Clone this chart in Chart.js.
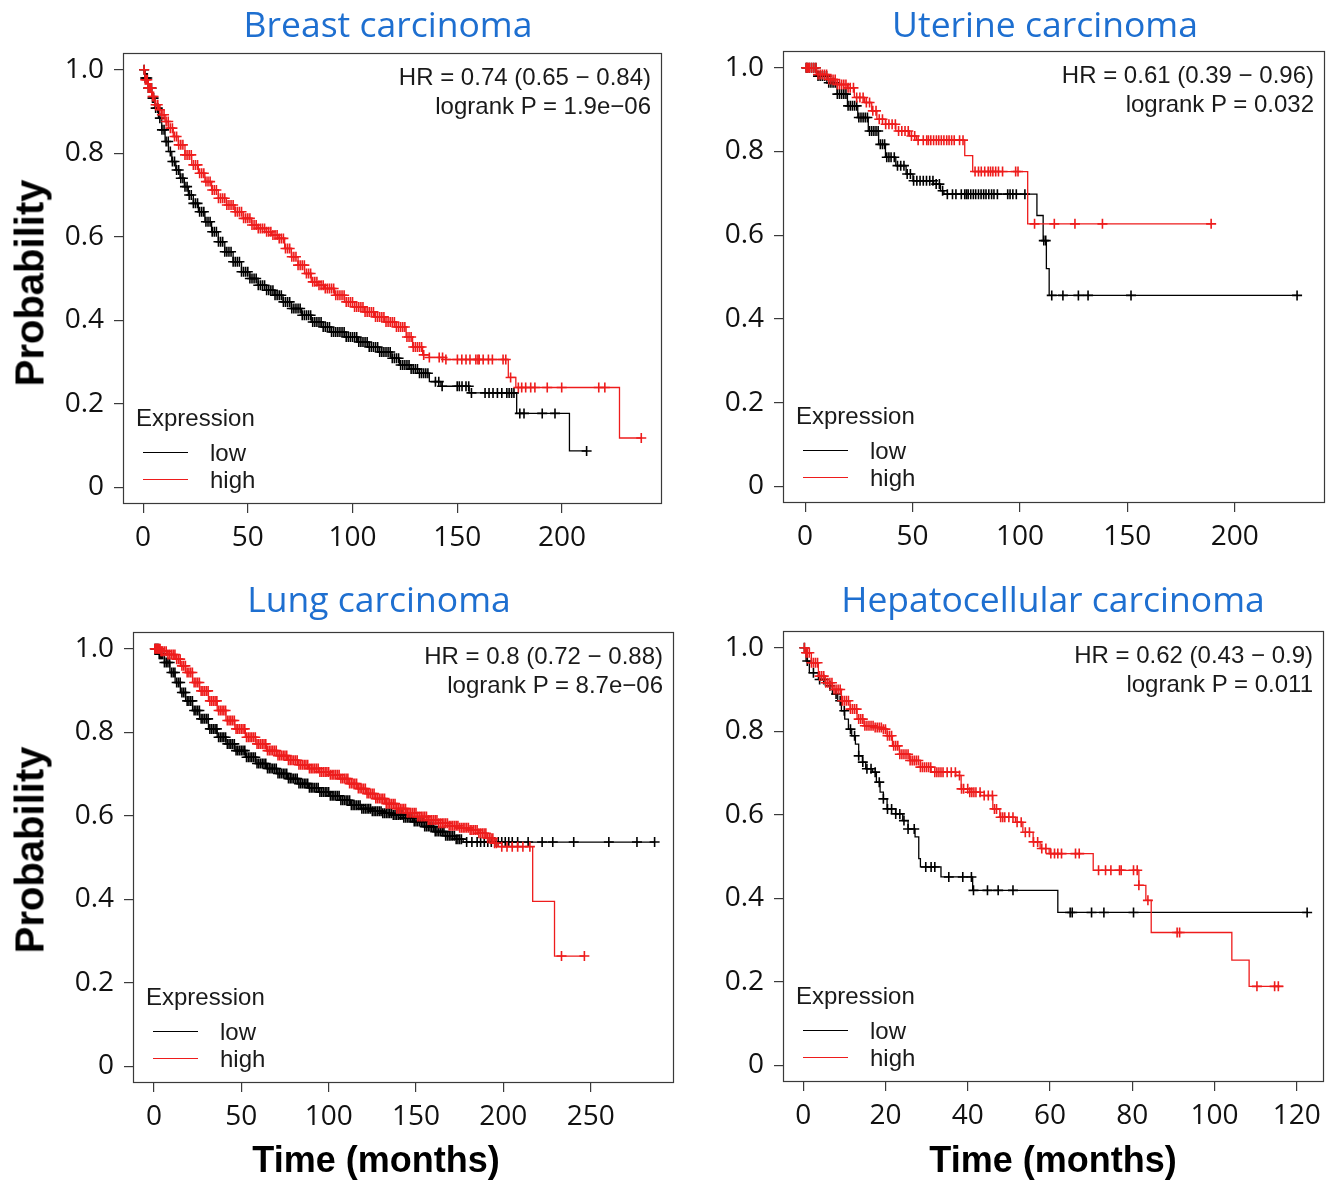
<!DOCTYPE html>
<html><head><meta charset="utf-8">
<script src="https://cdn.jsdelivr.net/npm/chart.js@4.4.1/dist/chart.umd.min.js"></script>
<style>
html,body{margin:0;padding:0;background:#fff;}
body{width:1328px;height:1182px;position:relative;overflow:hidden;font-family:"Liberation Sans",Arial,sans-serif;color:#1a1a1a;}
canvas{position:absolute;}
.t{position:absolute;white-space:nowrap;transform:translate(-50%,-50%);}
.title{font-family:"Open Sans",sans-serif;color:#1e6fd0;font-size:35.5px;}
.axl{font-family:"Liberation Sans",Arial,sans-serif;font-weight:bold;font-size:40px;color:#000;}
.xaxl{font-size:36px;}
.hr{position:absolute;font-size:24px;line-height:29px;text-align:right;white-space:nowrap;transform:translateX(-100%);}
.lg{position:absolute;font-size:24px;white-space:nowrap;transform:translateY(-50%);}
.ln{position:absolute;height:0;width:45px;}
</style></head><body>
<script>
// ---------- axis ticks ----------
const yTickValues = [0, 0.2, 0.4, 0.6, 0.8, 1.0];
const yTickLabels = ['0', '0.2', '0.4', '0.6', '0.8', '1.0'];
const breastXTicks = [0, 50, 100, 150, 200];
const uterineXTicks = [0, 50, 100, 150, 200];
const lungXTicks = [0, 50, 100, 150, 200, 250];
const hepatoXTicks = [0, 20, 40, 60, 80, 100, 120];

// ---------- Breast carcinoma ----------
const breastLowT = [0,0.95,2.5,4.1,5.7,7.3,8.9,10.5,12.1,13.7,15.6,17.6,19.7,21.6,24,26.4,29.5,32.7,35.9,39,43,47,51,54.9,58.9,62.9,66.8,70.8,75.6,80.3,85.1,89.8,96.2,102.5,107.3,112.1,118.4,122.4,127.1,131.9,136.7,142.2,155.7,178.4,203.6];
const breastLowS = [1,0.98,0.956,0.932,0.908,0.884,0.856,0.828,0.804,0.78,0.76,0.74,0.72,0.70,0.68,0.66,0.636,0.612,0.588,0.564,0.54,0.516,0.50,0.484,0.472,0.46,0.444,0.428,0.412,0.396,0.384,0.372,0.36,0.348,0.336,0.324,0.309,0.293,0.283,0.273,0.253,0.242,0.226,0.177,0.087];
const breastLowEnd = 211.8;
const breastLowCensor = [0.5,1,1.5,2,2.5,3,3.5,4,4.5,5,6,7,8,9,10,11,12,13,14,15,16,17,18,19,20,21,22,23,24,25,26,27,28,29,30,31,32,33,34,35,36,37,38,39,40,41,42,43,44,45,46,47,48,49,50,51,52,53,54,55,56,57,58,59,60,61,62,63,64,65,66,67,68,69,70,71,72,73,74,75,76,77,78,79,80,81,82,83,84,85,86,87,88,89,90,91,92,93,94,95,96,97,98,99,100,101,102,103,104,105,106,107,108,109,110,111,112,113,114,115,116,117,118,119,120,121,122,123,124,125,126,127,128,129,130,131,132,133,134,135,136,139.6,141.2,142.8,150,151,152.3,154.2,155.5,156.8,163.3,165.2,167.1,169.2,171.3,173.7,174.8,176,177.1,179.9,181.9,190.6,196.7,211.8];
const breastHighT = [0,0.95,2.5,4.1,5.7,7.3,8.9,10.5,12.1,14.4,16.8,20,23.2,26.4,29.5,32.7,35.9,39.8,43.8,47.8,51.8,54.9,58.1,61.3,64.4,67.6,70.8,74,77.1,80.3,83.5,86.7,91.4,96.2,101,105.7,110.5,115.2,120.8,125.6,128.7,133.5,136.7,144.6,174.4,178,227.5];
const breastHighS = [1,0.976,0.956,0.936,0.916,0.904,0.892,0.876,0.86,0.84,0.82,0.796,0.772,0.752,0.732,0.712,0.692,0.676,0.66,0.644,0.628,0.62,0.612,0.604,0.596,0.572,0.552,0.532,0.512,0.492,0.484,0.476,0.46,0.444,0.432,0.42,0.408,0.396,0.384,0.36,0.336,0.317,0.311,0.306,0.263,0.239,0.118];
const breastHighEnd = 237.9;
const breastHighCensor = [0.5,1,1.5,2,2.5,3,3.5,4,4.5,5,6,7,8,9,10,11,12,13,14,15,16,17,18,19,20,21,22,23,24,25,26,27,28,29,30,31,32,33,34,35,36,37,38,39,40,41,42,43,44,45,46,47,48,49,50,51,52,53,54,55,56,57,58,59,60,61,62,63,64,65,66,67,68,69,70,71,72,73,74,75,76,77,78,79,80,81,82,83,84,85,86,87,88,89,90,91,92,93,94,95,96,97,98,99,100,101,102,103,104,105,106,107,108,109,110,111,112,113,114,115,116,117,118,119,120,121,122,123,124,125,126,127,128,129,130,131,132,133,134,136.7,141.4,143,144.6,150.1,152.2,154.2,156.1,158.9,159.9,160.5,162.4,164.9,166.8,171.9,173.2,175.5,179.2,180.8,182.7,185.1,187.1,193,199.9,217.6,220.5,237.9];

// ---------- Uterine carcinoma ----------
const uterineLowT = [0,5.3,10.1,14.9,19.7,24.5,29.4,34.2,37.4,42.2,47,50.2,59.8,63,64.6,107.9,110.8,112.3,113.6];
const uterineLowS = [1,0.98,0.964,0.937,0.909,0.881,0.849,0.817,0.786,0.766,0.746,0.73,0.722,0.706,0.698,0.647,0.587,0.52,0.456];
const uterineLowEnd = 229;
const uterineLowCensor = [0.5,1,2,3,4,5,6,7,8,9,10,11,12,13,14,15,16,17,18,19,20,21,22,23,24,25,26,27,28,29,30,31,32,33,34,35,36,37,38,39,40,41.5,43,44.5,46,47.5,49,50.5,52,53.5,55,56.5,58,59.5,61,62.5,64,66.2,68.6,70.2,72.7,74.3,75.1,75.9,77.1,78.3,79.4,80.7,81.9,83.1,84.2,85.5,86.8,87.9,89.5,94.3,95.4,96.7,98.3,102.3,111.1,112,114.8,120,127.2,131.7,151.7,229];
const uterineHighT = [0,5.3,10.1,14.9,19.7,22.9,27.7,31,33.4,37.4,42.2,48.6,51.8,74.3,78,103.6];
const uterineHighS = [1,0.984,0.972,0.96,0.952,0.929,0.917,0.897,0.877,0.865,0.849,0.837,0.827,0.79,0.752,0.627];
const uterineHighEnd = 189;
const uterineHighCensor = [0.5,1,1.5,2,3,4,5,6,7,8,9,10,11,12,13,14,15,16,17,18,19,20,21,22.5,24,25.5,27,28.5,30,31.5,33,34.5,36,37.5,39,40.5,42,43.5,45,46.5,48,49.5,51,52.6,55,56.6,57.4,58.5,59.8,61.1,62.2,63.4,64.6,65.9,67,68.2,69.4,71.9,73.5,79.1,80.7,82,83.6,85.2,86.3,87.4,88.7,90,91.9,98,99.1,106.8,116,125.6,138.4,189];

// ---------- Lung carcinoma ----------
const lungLowT = [0,3,6,9.1,12.1,15.1,18.1,22.1,26.1,31.2,36.2,41.2,46.3,52.3,58.3,64.4,70.4,76.4,82.5,88.5,94.5,100.6,106.6,112.6,118.7,124.7,130.7,136.8,142.8,148.8,154.9,160.9,166.9,173,177];
const lungLowS = [1,0.987,0.967,0.943,0.919,0.895,0.875,0.852,0.832,0.808,0.788,0.772,0.756,0.74,0.725,0.713,0.701,0.689,0.677,0.667,0.657,0.648,0.637,0.625,0.617,0.611,0.606,0.602,0.595,0.586,0.574,0.562,0.552,0.544,0.537];
const lungLowEnd = 286.6;
const lungLowCensor = [0.5,1,1.5,2,2.5,3,3.5,4,4.5,5,6,7,8,9,10,11,12,13,14,15,16,17,18,19,20,21,22,23,24,25,26,27,28,29,30,31,32,33,34,35,36,37,38,39,40,41,42,43,44,45,46,47,48,49,50,51,52,53,54,55,56,57,58,59,60,61,62,63,64,65,66,67,68,69,70,71,72,73,74,75,76,77,78,79,80,81,82,83,84,85,86,87,88,89,90,91,92,93,94,95,96,97,98,99,100,101,102,103,104,105,106,107,108,109,110,111,112,113,114,115,116,117,118,119,120,121,122,123,124,125,126,127,128,129,130,131,132,133,134,135,136,137,138,139,140,141,142,143,144,145,146,147,148,149,150,151,152,153,154,155,156,157,158,159,160,161,162,163,164,165,166,167,168,169,170,171,172,173,174,175,176,179,182,185,187,189.1,191.1,193.1,195.1,197.1,199.1,201.1,203.1,205.1,208.2,214.2,222.2,228.3,240.3,260.4,276.5,286.6];
const lungHighT = [0,4,8,12.1,15.1,18.1,22.1,26.1,31.2,36.2,41.2,46.3,52.3,58.3,64.4,70.4,76.4,82.5,88.5,94.5,100.6,106.6,111.6,116.7,121.7,126.7,132.7,138.8,144.8,150.8,156.9,162.9,169,175,181,186,190.1,194.1,197.1,216.8,229.3];
const lungHighS = [1,0.994,0.986,0.975,0.959,0.943,0.919,0.899,0.875,0.852,0.828,0.808,0.788,0.772,0.756,0.744,0.733,0.722,0.713,0.705,0.698,0.689,0.677,0.665,0.653,0.641,0.629,0.617,0.607,0.598,0.59,0.582,0.576,0.571,0.566,0.558,0.546,0.534,0.526,0.395,0.264];
const lungHighEnd = 246.4;
const lungHighCensor = [0.5,1,1.5,2,2.5,3,3.5,4,4.5,5,6,7,8,9,10,11,12,13,14,15,16,17,18,19,20,21,22,23,24,25,26,27,28,29,30,31,32,33,34,35,36,37,38,39,40,41,42,43,44,45,46,47,48,49,50,51,52,53,54,55,56,57,58,59,60,61,62,63,64,65,66,67,68,69,70,71,72,73,74,75,76,77,78,79,80,81,82,83,84,85,86,87,88,89,90,91,92,93,94,95,96,97,98,99,100,101,102,103,104,105,106,107,108,109,110,111,112,113,114,115,116,117,118,119,120,121,122,123,124,125,126,127,128,129,130,131,132,133,134,135,136,137,138,139,140,141,142,143,144,145,146,147,148,149,150,151,152,153,154,155,156,157,158,159,160,161,162,163,164,165,166,167,168,169,170,171,172,173,174,175,176,177,178,179,180,181,182,183,184,185,186,187,188,189,190,191,192,193,194,195,196,199.1,202.1,205.1,208.2,211.2,215.2,233.3,246.4];

// ---------- Hepatocellular carcinoma ----------
const hepatoLowT = [0,0.7,1.5,3.7,5.4,7.1,8.4,9.3,10.1,11,11.8,12.7,13.5,14.4,15.2,16.9,17.8,18.7,19.5,20.4,22.5,24.2,25.5,27.2,28.1,28.5,33.5,41.2,61.9];
const hepatoLowS = [1,0.968,0.94,0.924,0.909,0.889,0.873,0.849,0.829,0.805,0.789,0.769,0.741,0.726,0.71,0.702,0.678,0.654,0.638,0.614,0.602,0.586,0.566,0.547,0.495,0.475,0.451,0.419,0.366];
const hepatoLowEnd = 122.7;
const hepatoLowCensor = [0.3,1,2.5,4,5,6.5,8,9,10,11.5,12.5,13.5,14.5,15.5,16.5,17.5,18.5,19.5,20.5,21.5,22.5,23.5,24.5,25.5,27,29.8,31.1,32,35.4,38.8,40.9,41.4,44.8,47.4,51,64.9,65.4,70.1,73.1,80.3,122.5];
const hepatoHighT = [0,0.7,2,3.7,5.4,7.1,9.3,11.4,13.1,14.8,17.4,19.1,20.4,21.7,23.4,25.9,28.5,31.1,37.1,38.4,40.5,43.1,46.1,47.8,51.6,53.4,55.9,57.6,59.8,70.5,81.6,83.3,84.6,104.2,108.4];
const hepatoHighS = [1,0.988,0.964,0.932,0.916,0.9,0.873,0.853,0.829,0.813,0.809,0.805,0.789,0.765,0.745,0.73,0.714,0.702,0.694,0.662,0.654,0.646,0.614,0.594,0.582,0.558,0.535,0.519,0.507,0.467,0.431,0.395,0.318,0.252,0.189];
const hepatoHighEnd = 116.7;
const hepatoHighCensor = [0.3,0.7,1,1.5,2,2.5,3,3.5,4,4.5,5,5.5,6,6.5,7,7.5,8,8.5,9,9.5,10,10.5,11,11.5,12,12.5,13,13.5,14,14.5,15,15.5,16,16.5,17,17.5,18,18.5,19,19.5,20,20.5,21,21.5,22,22.5,23,23.5,24,24.5,25,25.5,26,26.5,27,27.5,28,28.5,29,29.5,30,30.5,31,32,32.5,33,33.5,34,35,36,37,38,38.5,39,40,40.5,41,41.5,42,43,44,45,46,46.5,47,48,48.5,49,50,51,52,53,54,55,56,57,58,59,60.2,61.1,61.9,62.8,66.2,67.1,71.8,73.5,74.8,76.9,77.3,80.3,81.2,81.6,83.8,90.9,91.5,110.3,114.6,115.5];

// ---------- texts ----------
const titles = ['Breast carcinoma', 'Uterine carcinoma', 'Lung carcinoma', 'Hepatocellular carcinoma'];
const hrLines = [
  ['HR = 0.74 (0.65 \u2212 0.84)', 'logrank P = 1.9e\u221206'],
  ['HR = 0.61 (0.39 \u2212 0.96)', 'logrank P = 0.032'],
  ['HR = 0.8 (0.72 \u2212 0.88)', 'logrank P = 8.7e\u221206'],
  ['HR = 0.62 (0.43 \u2212 0.9)', 'logrank P = 0.011']
];
const legendTitle = 'Expression';
const legendLabels = ['low', 'high'];
const yAxisTitle = 'Probability';
const xAxisTitle = 'Time (months)';

// ---------- layout (page pixels) ----------
const RED = '#ee1c1c', BLACK = '#000000';
const panels = [
  {box:[123,53,662,504], xMin:-9.6, xMax:247.8, xTicks:breastXTicks, title:[388,23],
   low:[breastLowT,breastLowS,breastLowEnd,breastLowCensor], high:[breastHighT,breastHighS,breastHighEnd,breastHighCensor]},
  {box:[783,51,1325,503], xMin:-10.3, xMax:242, xTicks:uterineXTicks, title:[1045,23],
   low:[uterineLowT,uterineLowS,uterineLowEnd,uterineLowCensor], high:[uterineHighT,uterineHighS,uterineHighEnd,uterineHighCensor]},
  {box:[133,632,674,1083], xMin:-12, xMax:297.7, xTicks:lungXTicks, title:[379,598],
   low:[lungLowT,lungLowS,lungLowEnd,lungLowCensor], high:[lungHighT,lungHighS,lungHighEnd,lungHighCensor]},
  {box:[783,631,1324,1082], xMin:-4.9, xMax:126.6, xTicks:hepatoXTicks, title:[1053,598],
   low:[hepatoLowT,hepatoLowS,hepatoLowEnd,hepatoLowCensor], high:[hepatoHighT,hepatoHighS,hepatoHighEnd,hepatoHighCensor]}
];
const yTitlePos = [[30,283],[30,850]];
const xTitlePos = [[376,1160],[1053,1160]];

function stepValue(T, S, t) { let v = S[0]; for (let i = 0; i < T.length; i++) { if (T[i] <= t) v = S[i]; else break; } return v; }
function curvePoints(T, S, end) { const p = T.map((t, i) => ({x: t, y: S[i]})); p.push({x: end, y: S[S.length - 1]}); return p; }
function censorPoints(T, S, C) { return C.map(t => ({x: t, y: stepValue(T, S, t)})); }

const boxPlugin = {id: 'boxFrame', afterDraw(c) {
  const a = c.chartArea, ctx = c.ctx; ctx.save(); ctx.strokeStyle = '#3a3a3a'; ctx.lineWidth = 1.2;
  ctx.strokeRect(Math.round(a.left) + 0.5, Math.round(a.top) + 0.5, Math.round(a.right - a.left) - 1, Math.round(a.bottom - a.top) - 1);
  ctx.restore(); }};

const PADL = 110, PADT = 40, PADR = 12, PADB = 60;
function addText(cls, txt, x, y) { const d = document.createElement('div'); d.className = cls; d.textContent = txt; d.style.left = x + 'px'; d.style.top = y + 'px'; document.body.appendChild(d); return d; }

panels.forEach((p, k) => {
  const [l, t, r, b] = p.box;
  const W = r - l + PADL + PADR, H = b - t + PADT + PADB;
  const cv = document.createElement('canvas');
  cv.width = W; cv.height = H; cv.style.left = (l - PADL) + 'px'; cv.style.top = (t - PADT) + 'px';
  cv.style.width = W + 'px'; cv.style.height = H + 'px';
  document.body.appendChild(cv);
  const gridOpt = {drawOnChartArea: false, drawTicks: true, tickLength: 9, color: '#3a3a3a', lineWidth: 1.2};
  const tickFont = {family: 'Open Sans', size: 28};
  new Chart(cv, {
    type: 'line',
    data: {datasets: [
      {type: 'scatter', data: censorPoints(p.high[0], p.high[1], p.high[3]), pointStyle: 'cross', pointRadius: 5, borderColor: RED, backgroundColor: RED, borderWidth: 1.6, showLine: false},
      {data: curvePoints(p.high[0], p.high[1], p.high[2]), stepped: true, borderColor: RED, borderWidth: 1.3, pointRadius: 0, fill: false},
      {type: 'scatter', data: censorPoints(p.low[0], p.low[1], p.low[3]), pointStyle: 'cross', pointRadius: 5, borderColor: BLACK, backgroundColor: BLACK, borderWidth: 1.6, showLine: false},
      {data: curvePoints(p.low[0], p.low[1], p.low[2]), stepped: true, borderColor: BLACK, borderWidth: 1.3, pointRadius: 0, fill: false}
    ]},
    options: {
      responsive: false, animation: false, events: [],
      layout: {padding: {left: 0, top: PADT, right: PADR, bottom: 0}},
      plugins: {legend: {display: false}, tooltip: {enabled: false}},
      scales: {
        x: {type: 'linear', min: p.xMin, max: p.xMax,
            afterBuildTicks: s => { s.ticks = p.xTicks.map(v => ({value: v})); },
            afterFit: s => { s.height = PADB; },
            grid: gridOpt, border: {display: false},
            ticks: {font: tickFont, color: '#111', padding: 8, maxRotation: 0, autoSkip: false, callback: v => String(v)}},
        y: {type: 'linear', min: -0.04, max: 1.04,
            afterBuildTicks: s => { s.ticks = yTickValues.map(v => ({value: v})); },
            afterFit: s => { s.width = PADL; },
            grid: gridOpt, border: {display: false},
            ticks: {font: tickFont, color: '#111', padding: 10, autoSkip: false, callback: v => { const i = yTickValues.findIndex(u => Math.abs(u - v) < 1e-9); return i >= 0 ? yTickLabels[i] : ''; }}}
      }
    },
    plugins: [boxPlugin]
  });
  addText('t title', titles[k], p.title[0], p.title[1]);
  const hr = document.createElement('div'); hr.className = 'hr';
  hr.innerHTML = hrLines[k].map(s => '<div>' + s.replace(/</g, '&lt;') + '</div>').join('');
  hr.style.left = (r - 11) + 'px'; hr.style.top = (t + 9) + 'px'; document.body.appendChild(hr);
  addText('lg', legendTitle, l + 13, t + 365);
  addText('lg', legendLabels[0], l + 87, t + 400);
  addText('lg', legendLabels[1], l + 87, t + 427);
  [[BLACK, 399], [RED, 426]].forEach(([c, dy]) => { const d = document.createElement('div'); d.className = 'ln'; d.style.left = (l + 20) + 'px'; d.style.top = (t + dy) + 'px'; d.style.borderTop = '1.3px solid ' + c; document.body.appendChild(d); });
});
yTitlePos.forEach(([x, y]) => { const d = addText('t axl', yAxisTitle, x, y); d.style.transform = 'translate(-50%,-50%) rotate(-90deg)'; });
xTitlePos.forEach(([x, y]) => addText('t axl xaxl', xAxisTitle, x, y));
</script>
</body></html>
